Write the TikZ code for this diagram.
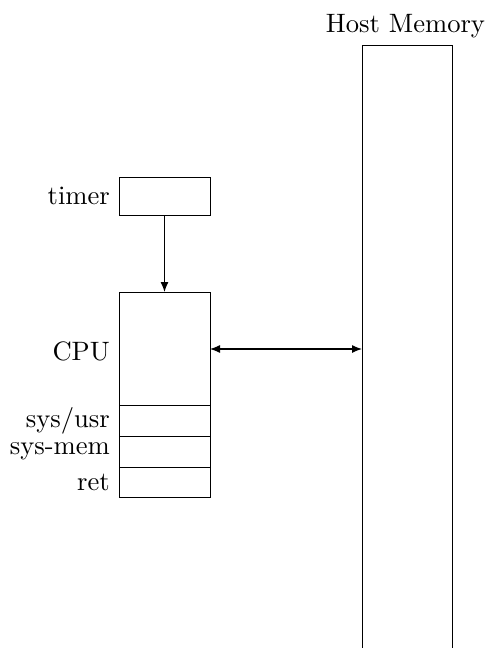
\documentclass[tikz,border=0pt]{standalone}
\usetikzlibrary{arrows.meta}
\newcommand{\bigtxt}[1]{\scalebox{2.66}{#1}}
\begin{document}
\begin{tikzpicture}[x=1pt,y=-1pt,
  box/.style={draw,line width=1pt,anchor=north west,inner sep=0pt,outer sep=0pt,minimum width=91pt},
  lbl/.style={anchor=east,inner sep=0pt},
  conn/.style={line width=1.2pt,-{Latex[length=10pt,width=8pt]}}]
\useasboundingbox (0,0) rectangle (488,648);
\node[box,minimum height=38pt] (timer) at (119,177) {};
\node[box,minimum height=113pt] (cpu) at (119,292) {};
\node[box,minimum height=31pt] (sysusr) at (119,405) {};
\node[box,minimum height=31pt] (sysmem) at (119,436) {};
\node[box,minimum height=30pt] (ret) at (119,467) {};
\node[box,minimum width=90pt,minimum height=640pt] (host) at (362,45) {};
\node[lbl] (ltimer) at ([xshift=-9pt]timer.west) {\bigtxt{timer}};
\node[lbl] (lcpu) at ([xshift=-9pt,yshift=-3pt]cpu.west) {\bigtxt{CPU}};
\node[lbl] (lsysusr) at ([xshift=-9pt]sysusr.west) {\bigtxt{sys/usr}};
\node[lbl] (lsysmem) at ([xshift=-9pt]sysmem.west) {\bigtxt{sys-mem}};
\node[lbl] (lret) at ([xshift=-9pt]ret.west) {\bigtxt{ret}};
\node[anchor=base,inner sep=0pt] (lhost) at (405.5,32) {\bigtxt{Host Memory}};
\draw[conn] (timer.south) -- (cpu.north);
\coordinate (hl) at (host.west |- 0,349);
\draw[conn,{Latex[length=10pt,width=8pt]}-{Latex[length=10pt,width=8pt]}] (cpu.east |- hl) -- (hl);
\end{tikzpicture}
\end{document}
